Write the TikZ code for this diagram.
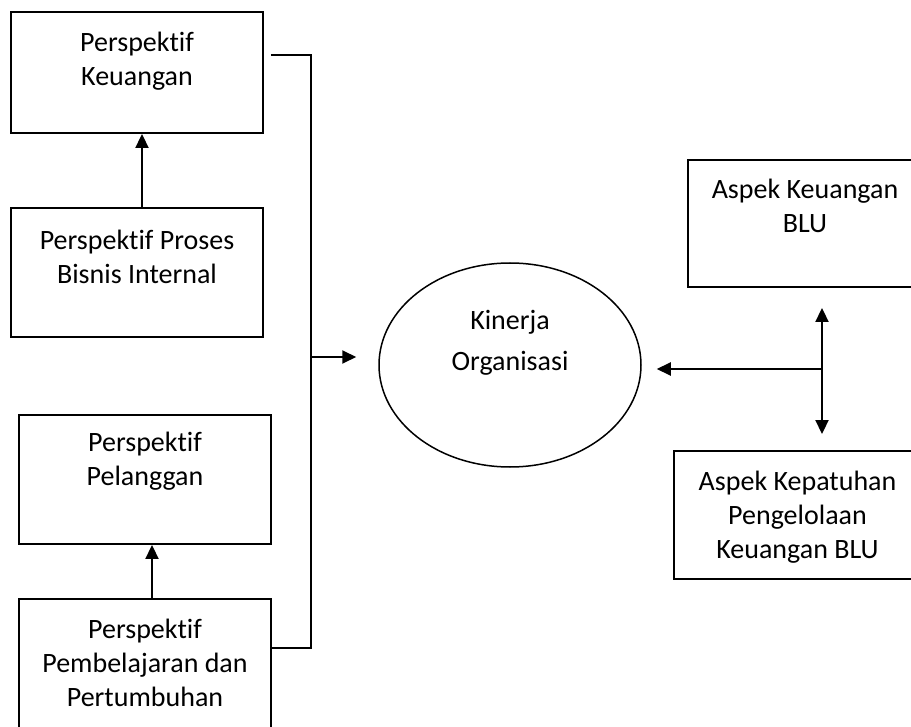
\documentclass[tikz,border=0pt]{standalone}
\usepackage{fontspec}
\setmainfont{Carlito}[Ligatures=NoCommon]
\usetikzlibrary{arrows.meta,shapes.geometric,calc}
\begin{document}
\begin{tikzpicture}[x=1pt,y=-1pt,
  box/.style={draw,line width=1.9pt,inner sep=0pt},
  txt/.style={align=center,font=\fontsize{28}{34}\selectfont,inner sep=0pt,anchor=north},
  con/.style={line width=1.9pt},
  arr/.style={con,-{Triangle[length=14pt,width=13pt]}}]
\useasboundingbox (0,0) rectangle (911,727);
\clip (0,0) rectangle (911,727);
% left boxes
\node[box,minimum width=252pt,minimum height=121pt] (b1) at (137,72.5) {};
\node[txt] (t1) at (137,32) {Perspektif\\Keuangan};
\node[box,minimum width=252pt,minimum height=129pt] (b2) at (137,272.5) {};
\node[txt] (t2) at (137,230) {Perspektif Proses\\Bisnis Internal};
\node[box,minimum width=252pt,minimum height=129pt] (b3) at (145,479.5) {};
\node[txt] (t3) at (145,432) {Perspektif\\Pelanggan};
\node[box,minimum width=252pt,minimum height=150pt] (b4) at (145,674) {};
\node[txt] (t4) at (145,619) {Perspektif\\Pembelajaran dan\\Pertumbuhan};
% ellipse
\node[draw,ellipse,line width=1.5pt,minimum width=262pt,minimum height=204pt,inner sep=0pt] (el) at (510,365) {};
\node[txt,font=\fontsize{28}{41}\selectfont] (te) at (510,310) {Kinerja\\Organisasi};
% right boxes
\node[box,minimum width=234pt,minimum height=127pt] (k1) at (805,223.5) {};
\node[txt] (tk1) at (805,179) {Aspek Keuangan\\BLU};
\node[box,minimum width=247pt,minimum height=128pt] (k2) at (797.5,515) {};
\node[txt] (tk2) at (797.5,471) {Aspek Kepatuhan\\Pengelolaan\\Keuangan BLU};
% left connectors
\draw[arr] ([xshift=5pt]b2.north) -- ([xshift=5pt]b1.south);
\draw[arr] ([xshift=7pt]b4.north) -- ([xshift=7pt]b3.south);
\coordinate (bt) at (311,55);
\coordinate (bb) at (311,648);
\coordinate (bm) at (311,357);
\draw[con] ($(b1.east |- bt)+(7,0)$) -- (bt) -- (bb) -- (b4.east |- bb);
\draw[arr] (bm) -- ($(el.west |- bm)+(-22,0)$);
% right connectors
\coordinate (r) at (822,369);
\draw[arr] (r) -- ($(el.east |- r)+(15,0)$);
\draw[arr] (r) -- ($(k1.south -| r)+(0,20)$);
\draw[arr] (r) -- ($(k2.north -| r)+(0,-16)$);
\end{tikzpicture}
\end{document}
